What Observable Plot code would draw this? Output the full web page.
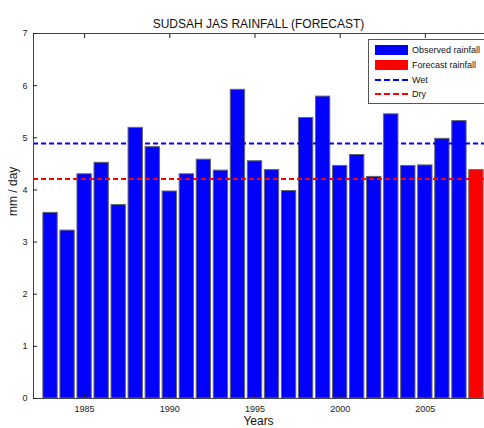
<!DOCTYPE html>
<html>
<head>
<meta charset="utf-8">
<script src="https://cdn.jsdelivr.net/npm/d3@7"></script>
<script src="https://cdn.jsdelivr.net/npm/@observablehq/plot@0.6"></script>
<style>
  html, body { margin: 0; padding: 0; background: #fff; }
  #wrap { position: relative; width: 484px; height: 428px; overflow: hidden; font-family: "Liberation Sans", Arial, sans-serif; }
  #wrap svg { max-width: none !important; display: block; }
  #legend { position: absolute; left: 368px; top: 39px; width: 124px; height: 63px; border: 1px solid #555; background: #fff; font-size: 9px; color: #111; }
  .li { position: absolute; left: 6px; height: 11px; display: flex; align-items: center; }
  .sw { width: 33px; height: 10px; margin-right: 4px; box-sizing: border-box; }
  .dash { width: 33px; height: 0; border-top: 2px dashed; margin-right: 4px; }
</style>
</head>
<body>
<div id="wrap"></div>
<script>
const title = "SUDSAH JAS RAINFALL (FORECAST)";
const years = [1983,1984,1985,1986,1987,1988,1989,1990,1991,1992,1993,1994,1995,1996,1997,1998,1999,2000,2001,2002,2003,2004,2005,2006,2007];
const observed = [3.56,3.22,4.30,4.52,3.71,5.19,4.82,3.97,4.30,4.58,4.37,5.92,4.55,4.38,3.98,5.38,5.79,4.46,4.67,4.25,5.45,4.46,4.47,4.98,5.32];
const forecastYear = [2008];
const forecast = [4.38];
const wet = 4.89;
const dry = 4.21;
const xTicks = [1985,1990,1995,2000,2005];
const yTicks = [0,1,2,3,4,5,6,7];
const legendLabels = ["Observed rainfall","Forecast rainfall","Wet","Dry"];

const obsData = years.map((y,i) => ({year: y, value: observed[i]}));
const fcData = forecastYear.map((y,i) => ({year: y, value: forecast[i]}));
const half = 0.42;

const chart = Plot.plot({
  width: 494,
  height: 428,
  marginLeft: 33,
  marginRight: 1,
  marginTop: 33,
  marginBottom: 30,
  style: {fontFamily: "Liberation Sans, Arial, sans-serif", fontSize: "9px", color: "#222", maxWidth: "none"},
  x: {domain: [1982, 2009], ticks: xTicks, tickFormat: "d", label: null},
  y: {domain: [0, 7], ticks: yTicks, tickFormat: "d", label: null},
  marks: [
    Plot.rectY(obsData, {x1: d => d.year - half, x2: d => d.year + half, y: "value", fill: "#0000ff", stroke: "#666", strokeWidth: 1}),
    Plot.rectY(fcData, {x1: d => d.year - half, x2: d => d.year + half, y: "value", fill: "#ff0000", stroke: "#666", strokeWidth: 1}),
    Plot.ruleY([wet], {stroke: "#0000ff", strokeWidth: 2, strokeDasharray: "5,3"}),
    Plot.ruleY([dry], {stroke: "#ff0000", strokeWidth: 2, strokeDasharray: "5,3"}),
    Plot.frame({stroke: "#444"}),
    Plot.axisX({anchor: "bottom", ticks: xTicks, tickFormat: "d", tickSize: -4, tickPadding: 11, label: null, fontSize: 9}),
    Plot.axisX({anchor: "top", ticks: xTicks, tickSize: -4, tickFormat: () => "", label: null}),
    Plot.axisY({anchor: "left", ticks: yTicks, tickFormat: "d", tickSize: -4, tickPadding: 10, label: null, fontSize: 9}),
    Plot.axisY({anchor: "right", ticks: yTicks, tickSize: -4, tickFormat: () => "", label: null}),
    Plot.text([title], {frameAnchor: "top", dy: -14, dx: -5, fontSize: 12, fill: "#111"}),
    Plot.text(["Years"], {frameAnchor: "bottom", dy: 26, dx: -5, fontSize: 12, fill: "#111"}),
    Plot.text(["mm / day"], {frameAnchor: "left", dx: -20, rotate: -90, fontSize: 12, fill: "#111"})
  ]
});
chart.style.maxWidth = "none";
const wrap = document.getElementById("wrap");
wrap.appendChild(chart);

const legend = document.createElement("div");
legend.id = "legend";
const items = [
  {type: "sw", color: "#0000ff"},
  {type: "sw", color: "#ff0000"},
  {type: "dash", color: "#0000ff"},
  {type: "dash", color: "#ff0000"}
];
const tops = [4, 19, 34, 48];
items.forEach((it, i) => {
  const row = document.createElement("div");
  row.className = "li";
  row.style.top = tops[i] + "px";
  const s = document.createElement("div");
  s.className = it.type;
  if (it.type === "sw") s.style.background = it.color; else s.style.borderTopColor = it.color;
  row.appendChild(s);
  const t = document.createElement("span");
  t.textContent = legendLabels[i];
  row.appendChild(t);
  legend.appendChild(row);
});
wrap.appendChild(legend);
</script>
</body>
</html>
